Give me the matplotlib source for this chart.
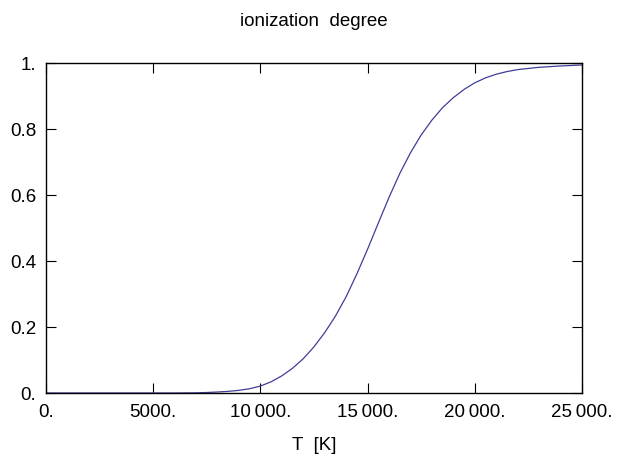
import matplotlib.pyplot as plt

# valeurs (T en K, degré d'ionisation)
temperatures = [0, 2000, 4000, 6000, 7000, 7500, 8000, 8500, 9000, 9500,
                10000, 10500, 11000, 11500, 12000, 12500, 13000, 13500,
                14000, 14500, 15000, 15500, 16000, 16500, 17000, 17500,
                18000, 18500, 19000, 19500, 20000, 20500, 21000, 21500,
                22000, 23000, 24000, 25000]
ionisation = [0.0, 0.0, 0.0, 0.0, 0.0005, 0.0015, 0.003, 0.005, 0.008, 0.013,
              0.021, 0.034, 0.052, 0.075, 0.104, 0.14, 0.183, 0.233,
              0.292, 0.361, 0.436, 0.515, 0.593, 0.665, 0.728, 0.782,
              0.827, 0.865, 0.895, 0.92, 0.94, 0.955, 0.966, 0.974,
              0.98, 0.987, 0.991, 0.994]

x_ticks = [0, 5000, 10000, 15000, 20000, 25000]
x_labels = ["0.", "5000.", "10\u2009000.", "15\u2009000.", "20\u2009000.", "25\u2009000."]
y_ticks = [0, 0.2, 0.4, 0.6, 0.8, 1.0]
y_labels = ["0.", "0.2", "0.4", "0.6", "0.8", "1."]

plt.rcParams['font.family'] = ['Liberation Sans', 'DejaVu Sans']

fig = plt.figure(figsize=(6.18, 4.62), dpi=100)
ax = fig.add_axes([46 / 618, 1 - 393 / 462, 536 / 618, 330 / 462])

ax.plot(temperatures, ionisation, color="#3f3d99", linewidth=0.9)

ax.set_xlim(0, 25000)
ax.set_ylim(0, 1)
ax.set_xticks(x_ticks)
ax.set_xticklabels(x_labels)
ax.set_yticks(y_ticks)
ax.set_yticklabels(y_labels)
ax.tick_params(direction="in", length=7, width=0.8, top=True, right=True,
               labelsize=13.5)
ax.tick_params(axis="x", pad=8)
ax.tick_params(axis="y", pad=7)
for s in ax.spines.values():
    s.set_linewidth(1.0)

# titre et libellé placés comme sur l'original
fig.text(314 / 618, 1 - 22 / 462, "ionization  degree", fontsize=13.5,
         ha="center", va="center")
fig.text(314 / 618, 1 - 446 / 462, "T  [K]", fontsize=13.5,
         ha="center", va="center")

fig.savefig("out.png", dpi=100)
